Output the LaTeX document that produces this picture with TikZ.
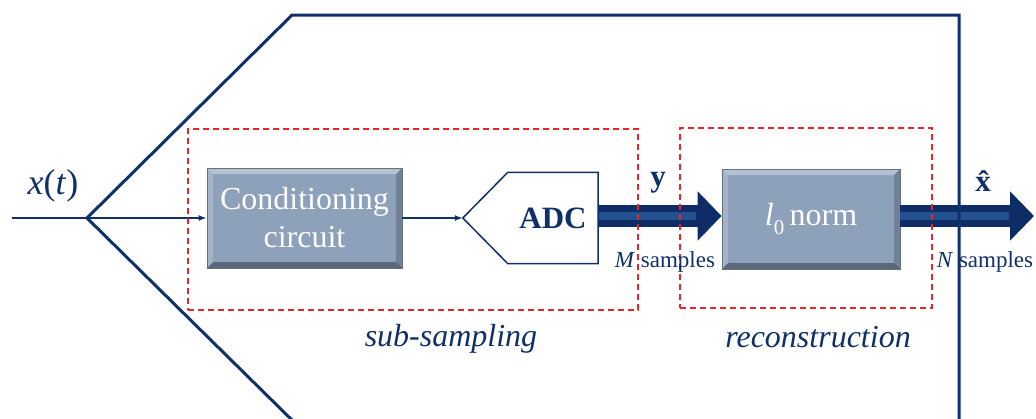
\documentclass[tikz,border=0pt]{standalone}
\usepackage{fontspec}
\setmainfont{Liberation Serif}
\usetikzlibrary{arrows.meta}
\definecolor{navy}{HTML}{10306A}
\definecolor{boxfill}{HTML}{8DA1BB}
\definecolor{arrowfill}{HTML}{0E2C66}
\definecolor{arrowhi}{HTML}{23508F}
\definecolor{dashred}{HTML}{E8262A}
\tikzset{
  bevelbox/.style={fill=boxfill, draw=boxfill!70!black, line width=0.8pt,
    text=white, align=center, inner sep=0pt,
    font=\fontsize{32}{38}\selectfont,
    path picture={
      \path (path picture bounding box.north west) coordinate (pnw)
            (path picture bounding box.north east) coordinate (pne)
            (path picture bounding box.south west) coordinate (psw)
            (path picture bounding box.south east) coordinate (pse);
      \fill[white,opacity=0.35] (pnw) -- (pne) -- ([xshift=-6pt,yshift=-6pt]pne) -- ([xshift=6pt,yshift=-6pt]pnw) -- cycle;
      \fill[black,opacity=0.35] (psw) -- (pse) -- ([xshift=-6pt,yshift=6pt]pse) -- ([xshift=6pt,yshift=6pt]psw) -- cycle;
      \fill[black,opacity=0.2] (pne) -- (pse) -- ([xshift=-6pt,yshift=6pt]pse) -- ([xshift=-6pt,yshift=-6pt]pne) -- cycle;
      \fill[white,opacity=0.2] (pnw) -- (psw) -- ([xshift=6pt,yshift=6pt]psw) -- ([xshift=6pt,yshift=-6pt]pnw) -- cycle;
    }},
  thinarrow/.style={draw=navy, line width=1.5pt, -{Latex[length=8pt,width=6pt]}},
  thickarrow/.style={draw=arrowfill, line width=22pt, -{Triangle[length=24pt,width=48pt]}},
  thickhi/.style={draw=arrowhi, line width=8pt},
  redbox/.style={draw=dashred, line width=1.5pt, dash pattern=on 6pt off 4pt},
  lbl/.style={text=navy, inner sep=0pt},
  frame/.style={draw=navy, line width=3pt, line join=miter}
}
\begin{document}
\begin{tikzpicture}[x=1pt,y=-1pt]
\useasboundingbox (0,0) rectangle (1036,418);
% nodes
\coordinate (xin) at (12,218);
\coordinate (apex) at (87,218);
\coordinate (ftop) at (292,15);
\coordinate (fright) at (959,15);
\coordinate (frightbot) at (959,425);
\coordinate (fbot) at (297,425);
\node[bevelbox, minimum width=195pt, minimum height=100pt] (cond) at (304.5,218) {Conditioning\\circuit};
\node[inner sep=0pt, minimum width=135pt, minimum height=91pt] (adc) at (530.5,218) {};
\node[bevelbox, minimum width=178pt, minimum height=100pt] (l0) at (811,219) {\textit{l}\raisebox{-0.28em}{\fontsize{21}{21}\selectfont 0}\,norm};
\coordinate (xout) at (1034,216);
% thick arrows
\draw[thickarrow] ([yshift=2pt]adc.east) -- ([yshift=3pt]l0.west);
\draw[thickhi] ([yshift=2pt]adc.east) -- ([xshift=-26pt,yshift=3pt]l0.west);
\draw[thickarrow] ([yshift=3pt]l0.east) -- (xout);
\draw[thickhi] ([yshift=3pt]l0.east) -- ([xshift=-25pt]xout);
% ADC shape
\draw[navy, line width=1.5pt, fill=white] (adc.west) -- ([xshift=45pt]adc.north west) -- (adc.north east) -- (adc.south east) -- ([xshift=45pt]adc.south west) -- cycle;
\node[lbl, font=\fontsize{31}{33}\selectfont\bfseries] (adctext) at (553,218) {ADC};
% thin arrows
\draw[navy, line width=1.5pt] (xin) -- (apex);
\draw[thinarrow] (apex) -- (cond.west);
\draw[thinarrow] (cond.east) -- (adc.west);
% frame
\draw[frame] (fbot) -- (apex) -- (ftop) -- (fright) -- (frightbot);
% dashed boxes
\node[redbox, minimum width=450pt, minimum height=181pt] (subbox) at (413,219.5) {};
\node[redbox, minimum width=252pt, minimum height=180pt] (recbox) at (806,218) {};
% labels
\node[lbl, font=\fontsize{36}{38}\selectfont] (xt) at (53,186) {\textit{x}(\textit{t})};
\node[lbl, font=\fontsize{31}{33}\selectfont\bfseries] (ylab) at (658,183) {y};
\node[lbl, font=\fontsize{31}{33}\selectfont\bfseries] (xhat) at (983,181) {\^{x}};
\node[lbl, font=\fontsize{23}{26}\selectfont] (msamp) at (665,262) {\textit{M} samples};
\node[lbl, font=\fontsize{23}{26}\selectfont] (nsamp) at (985,262) {\textit{N} samples};
\node[lbl, font=\fontsize{32}{35}\selectfont\itshape] (subsamp) at (451,339) {sub-sampling};
\node[lbl, font=\fontsize{32}{35}\selectfont\itshape] (recon) at (818,337) {reconstruction};
\end{tikzpicture}
\end{document}
